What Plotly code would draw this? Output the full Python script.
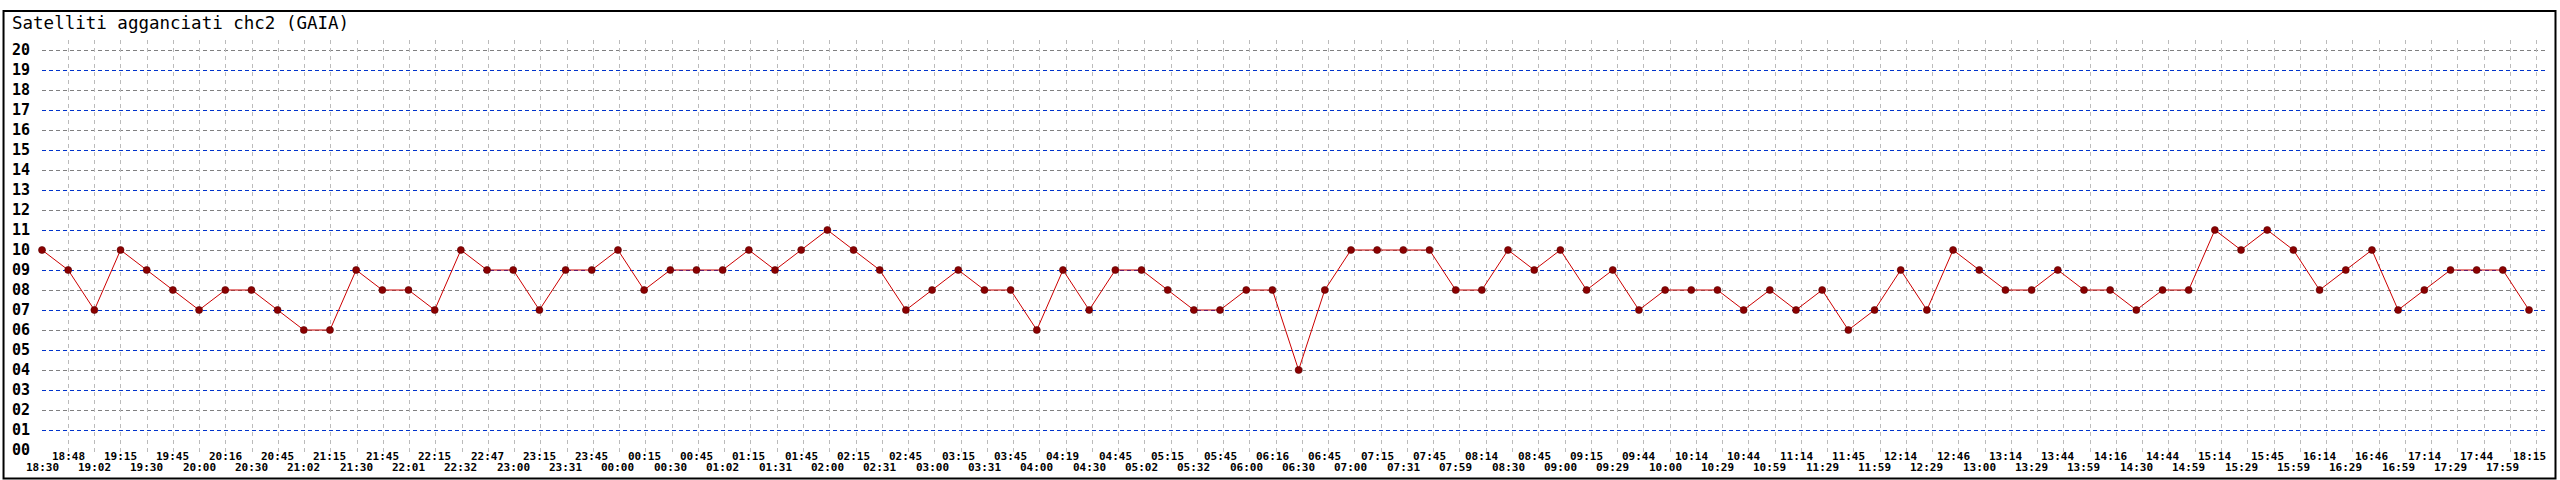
import plotly.graph_objects as go

title_text = "Satelliti agganciati chc2 (GAIA)"

times = [
    "18:30", "18:48", "19:02", "19:15", "19:30", "19:45", "20:00", "20:16",
    "20:30", "20:45", "21:02", "21:15", "21:30", "21:45", "22:01", "22:15",
    "22:32", "22:47", "23:00", "23:15", "23:31", "23:45", "00:00", "00:15",
    "00:30", "00:45", "01:02", "01:15", "01:31", "01:45", "02:00", "02:15",
    "02:31", "02:45", "03:00", "03:15", "03:31", "03:45", "04:00", "04:19",
    "04:30", "04:45", "05:02", "05:15", "05:32", "05:45", "06:00", "06:16",
    "06:30", "06:45", "07:00", "07:15", "07:31", "07:45", "07:59", "08:14",
    "08:30", "08:45", "09:00", "09:15", "09:29", "09:44", "10:00", "10:14",
    "10:29", "10:44", "10:59", "11:14", "11:29", "11:45", "11:59", "12:14",
    "12:29", "12:46", "13:00", "13:14", "13:29", "13:44", "13:59", "14:16",
    "14:30", "14:44", "14:59", "15:14", "15:29", "15:45", "15:59", "16:14",
    "16:29", "16:46", "16:59", "17:14", "17:29", "17:44", "17:59", "18:15",
]

satellites = [
    10, 9, 7, 10, 9, 8, 7, 8, 8, 7, 6, 6, 9, 8, 8, 7,
    10, 9, 9, 7, 9, 9, 10, 8, 9, 9, 9, 10, 9, 10, 11, 10,
    9, 7, 8, 9, 8, 8, 6, 9, 7, 9, 9, 8, 7, 7, 8, 8,
    4, 8, 10, 10, 10, 10, 8, 8, 10, 9, 10, 8, 9, 7, 8, 8,
    8, 7, 8, 7, 8, 6, 7, 9, 7, 10, 9, 8, 8, 9, 8, 8,
    7, 8, 8, 11, 10, 11, 10, 8, 9, 10, 7, 8, 9, 9, 9, 7,
]

y_values = list(range(0, 21))
y_labels = [f"{v:02d}" for v in y_values]
even_lines = [v for v in y_values[1:] if v % 2 == 0]
odd_lines = [v for v in y_values[1:] if v % 2 == 1]

MONO = "DejaVu Sans Mono"

# ---- geometry (pixels) ----
W, H = 2560, 480
L, R, T, B = 40, 2547, 40, 455
plot_w, plot_h = R - L, B - T
pt_step = 26.2      # point spacing
grid_step = 26.28   # vertical grid spacing
unit_px = 20.0      # pixels per satellite
y_range = [(B - 450) / -unit_px, (450 - T) / unit_px]


def px_x(p):
    return (p - L) / plot_w


def px_y(p):
    return (B - p) / plot_h


fig = go.Figure()

fig.add_trace(go.Scatter(
    x=list(range(len(satellites))), y=satellites,
    mode="lines+markers",
    line=dict(color="#cc0000", width=1),
    marker=dict(size=7, color="#8b0000", line=dict(color="#5a0000", width=0.6)),
    cliponaxis=False, showlegend=False, hoverinfo="x+y",
))

# invisible traces hosting the grid-only overlay axes
fig.add_trace(go.Scatter(x=[0], y=[None], xaxis="x2", yaxis="y",
                         showlegend=False, hoverinfo="skip"))
fig.add_trace(go.Scatter(x=[0], y=[None], xaxis="x", yaxis="y2",
                         showlegend=False, hoverinfo="skip"))
fig.add_trace(go.Scatter(x=[0], y=[None], xaxis="x", yaxis="y3",
                         showlegend=False, hoverinfo="skip"))

shapes = [dict(
    type="rect", xref="paper", yref="paper",
    x0=px_x(1.5), x1=px_x(2555.5), y0=px_y(478.5), y1=px_y(11),
    line=dict(color="black", width=2), fillcolor="rgba(0,0,0,0)",
)]

annotations = [dict(
    x=px_x(8), xref="paper", y=px_y(23), yref="paper",
    xanchor="left", yanchor="middle", text=title_text, showarrow=False,
    font=dict(family=MONO, size=17.5, color="black"),
)]
for i, t in enumerate(times):
    annotations.append(dict(
        x=i, xref="x", y=px_y(457 if i % 2 else 467), yref="paper",
        yanchor="middle", xanchor="center", text=t, showarrow=False,
        font=dict(family=MONO, size=11, color="black", weight="bold"),
    ))

grid_axis = dict(overlaying="y", matches="y", showticklabels=False,
                 showgrid=True, gridwidth=1, griddash="4px,3px",
                 zeroline=False, showline=False, ticks="")

fig.update_layout(
    width=W, height=H,
    margin=dict(l=L, r=W - R, t=T, b=H - B),
    paper_bgcolor="white", plot_bgcolor="white",
    xaxis=dict(range=[0, plot_w / pt_step], showgrid=False, zeroline=False,
               showticklabels=False, showline=False, ticks=""),
    xaxis2=dict(range=[0, plot_w / grid_step], overlaying="x", side="bottom",
                tick0=0, dtick=1, showgrid=True, gridcolor="#bbbbbb",
                griddash="4px,4px", gridwidth=1, zeroline=False,
                showticklabels=False, showline=False, ticks=""),
    yaxis=dict(range=y_range, tickvals=y_values, ticktext=y_labels,
               showgrid=False, zeroline=False, showline=False, ticks="",
               ticklabelstandoff=11,
               tickfont=dict(family=MONO, size=15, color="black",
                             weight="bold")),
    yaxis2=dict(grid_axis, tickvals=even_lines, gridcolor="#808080"),
    yaxis3=dict(grid_axis, tickvals=odd_lines, gridcolor="#0033cc"),
    shapes=shapes,
    annotations=annotations,
)

fig.write_html(
    "out.html",
    config={"displayModeBar": False},
    post_script="document.body.style.margin='0';document.body.style.overflow='hidden';",
)
